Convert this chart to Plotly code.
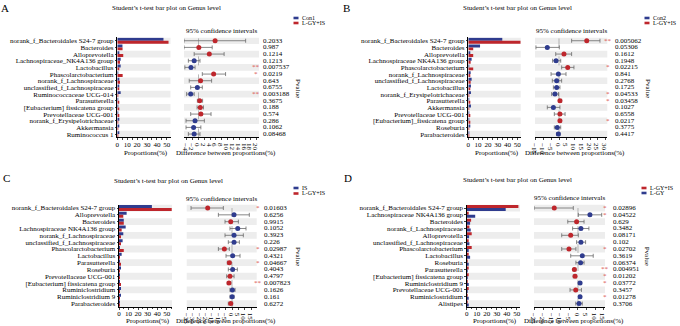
import plotly.graph_objects as go

W, H = 680, 326
FONT = "Liberation Serif, Times New Roman, serif"
BLUE = "#2F3C8E"
RED = "#BE262C"
STAR = "#D9534F"
STRIPE = "#EDEDED"

# ---------------- Panel A: Con1 vs L-GY+IS ----------------
A_categories = ["norank_f_Bacteroidales S24-7 group", "Bacteroides", "Alloprevotella",
                "Lachnospiraceae_NK4A136 group", "Lactobacillus", "Phascolarctobacterium",
                "norank_f_Lachnospiraceae", "unclassified_f_Lachnospiraceae",
                "Ruminococcaceae UCG-014", "Parasutterella", "[Eubacterium] fissicatena group",
                "Prevotellaceae UCG-001", "norank_f_Erysipelotrichaceae", "Akkermansia",
                "Ruminococcus 1"]
A_con1 = [46.6, 5.2, 1.7, 3.4, 3.4, 0.7, 2.0, 2.0, 3.4, 1.0, 0.7, 0.7, 1.7, 1.3, 1.3]
A_lgyis = [51.7, 5.3, 6.0, 2.7, 1.7, 5.4, 2.7, 1.7, 1.0, 1.7, 1.7, 1.7, 1.0, 0.3, 0.3]
A_diff = [5.7, 0.1, 3.7, -1.5, -2.6, 5.2, 0.7, -0.4, -2.7, 0.4, 0.6, 0.8, -1.2, -1.7, -1.5]
A_ci_low = [-5.0, -5.0, -1.5, -3.5, -4.7, 1.3, -3.2, -2.7, -4.1, -0.4, -0.5, -2.7, -4.3, -4.3, -3.5]
A_ci_high = [16.2, 4.7, 8.8, 0.5, -1.2, 9.3, 4.5, 1.3, -1.5, 1.4, 1.7, 4.3, 2.0, 0.8, 0.5]
A_pvalues = ["0.2033", "0.987", "0.1214", "0.1213", "0.007537", "0.0219", "0.643", "0.6755",
             "0.003188", "0.3675", "0.188", "0.574", "0.286", "0.1062", "0.08468"]

# ---------------- Panel B: Con2 vs L-GY+IS ----------------
B_categories = ["norank_f_Bacteroidales S24-7 group", "Bacteroides", "Alloprevotella",
                "Lachnospiraceae NK4A136 group", "Phascolarctobacterium", "norank_f_Lachnospiraceae",
                "unclassified_f_Lachnospiraceae", "Lactobacillus", "norank_f_Erysipelotrichaceae",
                "Parasutterella", "Akkermansia", "Prevotellaceae UCG-001",
                "[Eubacterium]_fissicatena group", "Roseburia", "Parabacteroides"]
B_con2 = [34.7, 12.0, 1.7, 3.4, 0.7, 2.4, 3.4, 2.7, 2.7, 0.7, 2.7, 0.7, 0.7, 1.3, 0.7]
B_lgyis = [53.5, 5.0, 5.0, 2.4, 5.0, 1.7, 2.4, 1.7, 1.0, 1.7, 0.7, 1.7, 1.3, 1.0, 0.6]
B_diff = [17.8, -7.5, 3.2, -1.9, 5.6, -0.4, -1.5, -1.5, -2.6, 0.6, -3.6, 0.6, 0.6, -1.1, -0.4]
B_ci_low = [8.1, -14.8, -2.1, -4.1, 1.7, -5.1, -4.3, -3.6, -4.7, 0.1, -7.5, -3.0, 0.15, -3.0, -1.5]
B_ci_high = [26.3, 0.2, 8.1, 1.1, 9.6, 4.5, 1.7, 0.6, -0.3, 1.7, 0.6, 3.9, 1.3, 1.1, 0.6]
B_pvalues = ["0.005062", "0.05306", "0.1612", "0.1948", "0.02215", "0.841", "0.2768", "0.1725",
             "0.04533", "0.03458", "0.1027", "0.6558", "0.0217", "0.3775", "0.4417"]

# ---------------- Panel C: IS vs L-GY+IS ----------------
C_categories = ["norank_f_Bacteroidales S24-7 group", "Alloprevotella", "Bacteroides",
                "Lachnospiraceae NK4A136 group", "norank_f_Lachnospiraceae",
                "unclassified_f_Lachnospiraceae", "Phascolarctobacterium", "Lactobacillus",
                "Parasutterella", "Roseburia", "Prevotellaceae UCG-001",
                "[Eubacterium] fissicatena group", "Ruminiclostridium", "Ruminiclostridium 9",
                "Parabacteroides"]
C_is = [34.5, 8.0, 5.0, 7.0, 4.5, 3.8, 1.0, 2.8, 1.0, 1.7, 1.0, 0.7, 1.4, 1.4, 0.7]
C_lgyis = [55.3, 4.5, 5.0, 2.8, 2.0, 1.7, 5.0, 1.0, 2.0, 1.0, 1.0, 1.7, 0.7, 0.7, 0.7]
C_diff = [-19.1, 1.6, -1.0, 4.5, 1.6, 1.6, -6.0, 0.5, -2.1, 0.5, -1.6, -2.4, 0.3, 0.1, -1.0]
C_ci_low = [-32.2, -10.7, -5.5, -1.6, -5.5, -2.9, -10.7, -4.7, -3.7, -2.9, -4.2, -3.7, -1.6, -1.6, -2.9]
C_ci_high = [-6.8, 13.6, 5.0, 11.0, 8.9, 5.8, -2.1, 6.3, -0.8, 4.2, 1.6, -1.0, 2.4, 1.6, 0.5]
C_pvalues = ["0.01603", "0.6256", "0.9915", "0.1052", "0.3923", "0.226", "0.02987", "0.4321",
             "0.04667", "0.4043", "0.4797", "0.007823", "0.1626", "0.161", "0.6272"]

# ---------------- Panel D: L-GY+IS vs L-GY ----------------
D_categories = ["norank_f_Bacteroidales S24-7 group", "Lachnospiraceae NK4A136 group", "Bacteroides",
                "norank_f_Lachnospiraceae", "Alloprevotella", "unclassified_f_Lachnospiraceae",
                "Phascolarctobacterium", "Lactobacillus", "Roseburia", "Parasutterella",
                "[Eubacterium] fissicatena group", "Ruminiclostridium 9", "Prevotellaceae UCG-001",
                "Ruminiclostridium", "Alistipes"]
D_lgyis = [51.7, 1.7, 4.4, 2.7, 5.0, 1.4, 5.0, 1.4, 1.0, 2.0, 1.7, 0.7, 1.7, 0.3, 0.3]
D_lgy = [39.0, 8.5, 3.4, 4.0, 2.4, 2.7, 1.7, 3.4, 2.0, 1.0, 0.7, 1.4, 1.0, 1.4, 1.4]
D_diff = [-13.7, 6.9, -0.8, 1.7, -4.2, 1.7, -5.2, 2.5, 1.5, -2.1, -1.7, 1.2, -1.3, 1.2, 0.6]
D_ci_low = [-25.4, 0.2, -5.9, -3.1, -9.4, -0.8, -9.4, -4.2, -1.2, -2.7, -2.7, 0.2, -4.6, 0.4, -1.3]
D_ci_high = [-2.7, 13.7, 3.5, 6.3, 0.2, 4.4, -1.2, 8.8, 3.5, -1.2, -0.8, 2.1, 2.0, 1.7, 2.5]
D_pvalues = ["0.02896", "0.04522", "0.629", "0.3482", "0.08171", "0.102", "0.02702", "0.3619",
             "0.06374", "0.004951", "0.01202", "0.03772", "0.3457", "0.01278", "0.3706"]

# ---------------- panel layout (pixel positions) ----------------
panels = [
    dict(letter="A", cats=A_categories, series=[("Con1", A_con1, BLUE), ("L-GY+IS", A_lgyis, RED)],
         diff=A_diff, lo=A_ci_low, hi=A_ci_high, p=A_pvalues, pos=RED, neg=BLUE,
         letter_xy=(5, 8), title_xy=(166.5, 8.5), leg_x=(293.5, 298.5, 300.5), leg_y=(18, 23),
         bar_x=(117.3, 170.5), bar_range=(0, 53.7), ci_x=(184, 259), ci_range=(-5, 20.8), ci_dtick=2,
         rows_y=(37.4, 137.4), ci_title_xy=(221.5, 30.7), p_x=261.5, star_x=256, pv_xy=(298, 88),
         axt_y=153),
    dict(letter="B", cats=B_categories, series=[("Con2", B_con2, BLUE), ("L-GY+IS", B_lgyis, RED)],
         diff=B_diff, lo=B_ci_low, hi=B_ci_high, p=B_pvalues, pos=RED, neg=BLUE,
         letter_xy=(346, 8), title_xy=(517.5, 8.5), leg_x=(644.5, 649.5, 651.5), leg_y=(18, 23),
         bar_x=(468.3, 520.7), bar_range=(0, 53.5), ci_x=(535, 607.3), ci_range=(-15.4, 31), ci_dtick=5,
         rows_y=(37.4, 137.4), ci_title_xy=(571, 30.7), p_x=613.5, star_x=608, pv_xy=(648, 88),
         axt_y=153),
    dict(letter="C", cats=C_categories, series=[("IS", C_is, BLUE), ("L-GY+IS", C_lgyis, RED)],
         diff=C_diff, lo=C_ci_low, hi=C_ci_high, p=C_pvalues, pos=BLUE, neg=RED,
         letter_xy=(6, 178), title_xy=(168.4, 180.5), leg_x=(293.5, 298.5, 300.5), leg_y=(188, 193.5),
         bar_x=(119, 172), bar_range=(0, 55.6), ci_x=(186.7, 256.7), ci_range=(-35.6, 19.4), ci_dtick=5,
         rows_y=(204.6, 307), ci_title_xy=(221.7, 198.5), p_x=263, star_x=258, pv_xy=(298, 256),
         axt_y=321),
    dict(letter="D", cats=D_categories, series=[("L-GY+IS", D_lgyis, RED), ("L-GY", D_lgy, BLUE)],
         diff=D_diff, lo=D_ci_low, hi=D_ci_high, p=D_pvalues, pos=BLUE, neg=RED,
         letter_xy=(347.5, 178), title_xy=(517.3, 180), leg_x=(641.5, 646.5, 648.5), leg_y=(188, 193),
         bar_x=(466.7, 520), bar_range=(0, 53.3), ci_x=(534, 605), ci_range=(-25.4, 15.6), ci_dtick=5,
         rows_y=(204.6, 307), ci_title_xy=(569.5, 198), p_x=611.5, star_x=605.5, pv_xy=(647.3, 256),
         axt_y=321),
]


def px(x):
    return x / W


def py(y):
    return 1 - y / H


fig = go.Figure()
layout = dict(width=W, height=H, margin=dict(l=0, r=0, t=0, b=0, autoexpand=False),
              paper_bgcolor="white", plot_bgcolor="white", showlegend=False, barmode="group",
              bargap=0.12, bargroupgap=0, font=dict(family=FONT, size=7, color="black"))
shapes, annotations = [], []


def ann(text, x, y, size=7, color="black", xanchor="center", yanchor="middle", angle=0):
    annotations.append(dict(text=text, x=px(x), y=py(y), xref="paper", yref="paper",
                            showarrow=False, xanchor=xanchor, yanchor=yanchor, textangle=angle,
                            borderpad=0, font=dict(family=FONT, size=size, color=color)))


for k, P in enumerate(panels):
    bi, ci = 2 * k + 1, 2 * k + 2
    bx = "x" if bi == 1 else f"x{bi}"
    by = "y" if bi == 1 else f"y{bi}"
    cx, cy = f"x{ci}", f"y{ci}"
    cats = P["cats"]
    n = len(cats)
    ydom = [py(P["rows_y"][1]), py(P["rows_y"][0])]

    # bars
    for name, vals, col in P["series"]:
        fig.add_trace(go.Bar(y=cats, x=vals, name=name, orientation="h", marker_color=col,
                             marker_line_width=0, xaxis=bx, yaxis=by))
    # CI points
    colors = [P["pos"] if d > 0 else P["neg"] for d in P["diff"]]
    fig.add_trace(go.Scatter(
        y=cats, x=P["diff"], mode="markers", xaxis=cx, yaxis=cy,
        marker=dict(color=colors, size=5),
        error_x=dict(type="data", symmetric=False,
                     array=[h - d for h, d in zip(P["hi"], P["diff"])],
                     arrayminus=[d - l for d, l in zip(P["diff"], P["lo"])],
                     color="#6a6a6a", thickness=0.8, width=2)))

    axkey = lambda a, i: f"{a}axis" if i == 1 else f"{a}axis{i}"
    layout[axkey("x", bi)] = dict(domain=[px(P["bar_x"][0]), px(P["bar_x"][1])], anchor=by,
                                  automargin=False, ticklabelstandoff=-2,
                                  range=list(P["bar_range"]), dtick=10, tick0=0, showgrid=False,
                                  zeroline=False, showline=True, linecolor="black", linewidth=0.8,
                                  ticks="outside", ticklen=2, tickwidth=0.6,
                                  minor=dict(dtick=5, ticks="outside", ticklen=1.2, tickwidth=0.5),
                                  tickfont=dict(family=FONT, size=7))
    layout[axkey("y", bi)] = dict(domain=ydom, anchor=bx, type="category", automargin=False,
                                  categoryorder="array", categoryarray=cats,
                                  tickmode="linear", tick0=0, dtick=1,
                                  range=[n - 0.5, -0.5], showgrid=False, zeroline=False,
                                  showline=True, linecolor="black", linewidth=0.8,
                                  ticks="outside", ticklen=1.5, tickwidth=0.6,
                                  tickfont=dict(family=FONT, size=7))
    layout[axkey("x", ci)] = dict(domain=[px(P["ci_x"][0]), px(P["ci_x"][1])], anchor=cy,
                                  automargin=False, ticklabelstandoff=-2,
                                  range=list(P["ci_range"]), dtick=P["ci_dtick"], tick0=0,
                                  showgrid=False, zeroline=False, showline=True, linecolor="black",
                                  linewidth=0.6, ticks="outside", ticklen=2, tickwidth=0.6,
                                  tickfont=dict(family=FONT, size=7))
    layout[axkey("y", ci)] = dict(domain=ydom, anchor=cx, type="category", automargin=False,
                                  categoryorder="array", categoryarray=cats,
                                  range=[n - 0.5, -0.5], showgrid=False, zeroline=False,
                                  showline=False, showticklabels=False, ticks="")

    # stripes on alternating rows
    for i in range(0, n, 2):
        for xr, yr in ((bx, by), (cx, cy)):
            shapes.append(dict(type="rect", xref=f"{xr} domain", yref=yr, x0=0, x1=1,
                               y0=i - 0.5, y1=i + 0.5, fillcolor=STRIPE, line_width=0,
                               layer="below"))
    # zero dashed line
    shapes.append(dict(type="line", xref=cx, yref=f"{cy} domain", x0=0, x1=0, y0=0, y1=1,
                       line=dict(color="#9a9a9a", width=0.7, dash="dash"), layer="below"))

    # p-values and stars
    for i, p in enumerate(P["p"]):
        annotations.append(dict(text=p, x=px(P["p_x"]), xref="paper", y=i, yref=cy,
                                showarrow=False, xanchor="left", yanchor="middle", borderpad=0,
                                font=dict(family=FONT, size=7, color="black")))
        pv = float(p)
        star = "**" if pv < 0.01 else ("*" if pv < 0.05 else "")
        if star:
            annotations.append(dict(text=star, x=px(P["star_x"] - 0.5), xref="paper", y=i, yref=cy,
                                    showarrow=False, xanchor="center", yanchor="middle", borderpad=0,
                                    font=dict(family=FONT, size=7, color=STAR)))

    # texts
    ann(P["letter"], *P["letter_xy"], size=11)
    ann("Student\u2019s t-test bar plot on Genus level", *P["title_xy"], size=7)
    ann("95% confidence intervals", *P["ci_title_xy"], size=7)
    ann("Pvalue", *P["pv_xy"], size=7, angle=90)
    ann("Proportions(%)", (P["bar_x"][0] + P["bar_x"][1]) / 2 + 2, P["axt_y"], size=7)
    ann("Difference between proportions(%)", (P["ci_x"][0] + P["ci_x"][1]) / 2 + 4, P["axt_y"], size=7)

    # legend
    x0, x1, xt = P["leg_x"]
    for (name, _, col), ly in zip(P["series"], P["leg_y"]):
        shapes.append(dict(type="rect", xref="paper", yref="paper", x0=px(x0), x1=px(x1),
                           y0=py(ly + 1.3), y1=py(ly - 1.3), fillcolor=col, line_width=0))
        ann(name, xt, ly - 0.3, size=6, xanchor="left")

layout["shapes"] = shapes
layout["annotations"] = annotations
fig.update_layout(**layout)
fig.write_html("out.html", config={"displayModeBar": False},
               post_script="document.body.style.margin='0';document.body.style.padding='0';"
                           "document.body.style.overflow='hidden';")
